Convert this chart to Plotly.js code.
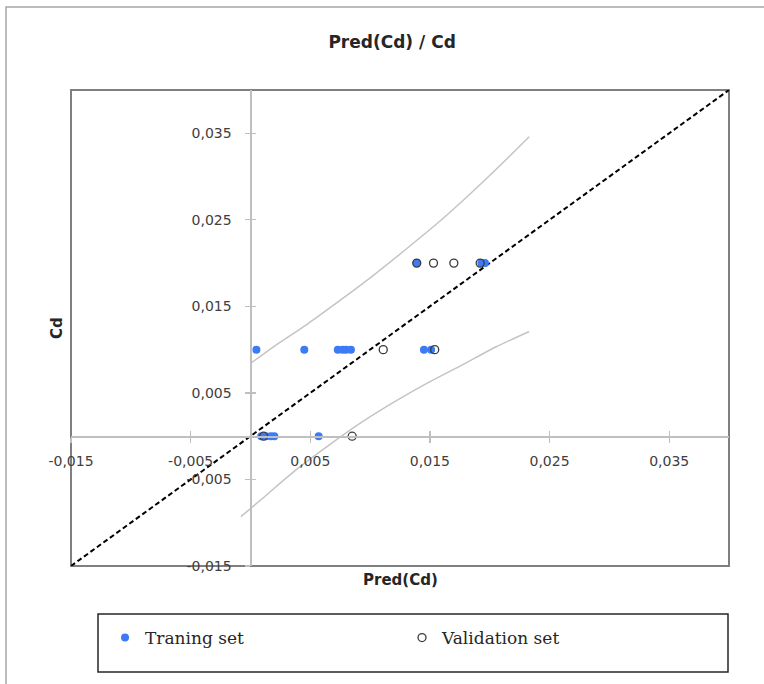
<!DOCTYPE html>
<html>
<head>
<meta charset="utf-8">
<script src="https://cdn.plot.ly/plotly-3.0.1.min.js"></script>
<style>html,body{margin:0;padding:0;background:#fff;}#chart{width:764px;height:684px;}</style>
</head>
<body>
<div id="chart"></div>
<script>
// ---- data ----
const trainX = [0.0009, 0.0013, 0.0017, 0.0020, 0.0057, 0.0005, 0.0045, 0.0073, 0.0077, 0.0080, 0.0084, 0.0145, 0.0151, 0.0139, 0.0193, 0.0196];
const trainY = [0, 0, 0, 0, 0, 0.01, 0.01, 0.01, 0.01, 0.01, 0.01, 0.01, 0.01, 0.02, 0.02, 0.02];
const valX = [0.0011, 0.0085, 0.0111, 0.0154, 0.0139, 0.0153, 0.0170, 0.0192];
const valY = [0, 0, 0.01, 0.01, 0.02, 0.02, 0.02, 0.02];
const upperX = [0.0000, 0.0019, 0.0047, 0.0074, 0.0102, 0.0130, 0.0158, 0.0186, 0.0214, 0.0233];
const upperY = [0.0084, 0.0103, 0.0129, 0.0156, 0.0185, 0.0216, 0.0248, 0.0283, 0.0320, 0.0346];
const lowerX = [-0.0008, 0.0010, 0.0038, 0.0066, 0.0094, 0.0122, 0.0150, 0.0178, 0.0205, 0.0233];
const lowerY = [-0.0093, -0.0072, -0.0039, -0.0010, 0.0017, 0.0041, 0.0063, 0.0083, 0.0103, 0.0121];
const diagX = [-0.015, 0.04];
const diagY = [-0.015, 0.04];
const tickValues = [-0.015, -0.005, 0.005, 0.015, 0.025, 0.035];
const tickLabels = ['-0,015', '-0,005', '0,005', '0,015', '0,025', '0,035'];
const axisRange = [-0.015, 0.04];
const seriesNames = ['Traning set', 'Validation set'];

const zeroPos = (0 - axisRange[0]) / (axisRange[1] - axisRange[0]);
const tickFont = {family: 'DejaVu Sans', size: 14, color: '#404040'};
const axisColor = '#bfbfbf';

const data = [
  {x: upperX, y: upperY, mode: 'lines', line: {color: '#c4c4c4', width: 1.5, shape: 'spline', smoothing: 0.6}, showlegend: false, hoverinfo: 'skip'},
  {x: lowerX, y: lowerY, mode: 'lines', line: {color: '#c4c4c4', width: 1.5, shape: 'spline', smoothing: 0.6}, showlegend: false, hoverinfo: 'skip'},
  {x: diagX, y: diagY, mode: 'lines', line: {color: '#000000', width: 2, dash: '5px,3px'}, showlegend: false},
  {x: trainX, y: trainY, mode: 'markers', name: seriesNames[0],
   marker: {color: '#3c7bf5', size: 8, line: {width: 0}}},
  {x: valX, y: valY, mode: 'markers', name: seriesNames[1],
   marker: {color: 'rgba(255,255,255,0)', size: 8, line: {color: '#3a3a3a', width: 1.3}}},
  {x: [], y: [], xaxis: 'x2', yaxis: 'y2', showlegend: false, hoverinfo: 'skip'}
];

const baseAxis = {
  range: axisRange, anchor: 'free', position: zeroPos,
  showgrid: false, zeroline: false,
  tickmode: 'array', tickvals: tickValues, ticktext: tickLabels,
  ticks: 'outside', ticklen: 5, tickwidth: 1.2, tickcolor: axisColor,
  showline: true, linecolor: axisColor, linewidth: 1.5,
  tickfont: tickFont, fixedrange: true
};

const overAxis = {
  range: axisRange, anchor: 'free', position: zeroPos,
  showgrid: false, zeroline: false, showline: false,
  tickmode: 'array', tickvals: tickValues, showticklabels: false,
  ticks: 'inside', ticklen: 5, tickwidth: 1.2, tickcolor: axisColor, fixedrange: true
};

const layout = {
  width: 764, height: 684,
  margin: {l: 71, r: 35, t: 90, b: 118, pad: 0},
  paper_bgcolor: '#ffffff', plot_bgcolor: 'rgba(0,0,0,0)',
  title: {text: 'Pred(Cd) / Cd', font: {family: 'DejaVu Sans', size: 17, color: '#262626', weight: 'bold'},
          xref: 'paper', x: 0.488, xanchor: 'center', yref: 'container', y: 1 - 42/684, yanchor: 'middle'},
  xaxis: Object.assign({}, baseAxis, {ticklabelstandoff: 7}),
  yaxis: Object.assign({}, baseAxis, {ticklabelstandoff: 11}),
  xaxis2: Object.assign({}, overAxis, {overlaying: 'x'}),
  yaxis2: Object.assign({}, overAxis, {overlaying: 'y'}),
  showlegend: true,
  legend: {orientation: 'h', x: 0.0517, xanchor: 'left', y: -0.1513, yanchor: 'middle',
           font: {family: 'DejaVu Serif', size: 17, color: '#262626'},
           bgcolor: 'rgba(0,0,0,0)', borderwidth: 0, entrywidth: 252, entrywidthmode: 'pixels'},
  annotations: [
    {text: 'Pred(Cd)', xref: 'paper', yref: 'paper', x: 0.5, y: -14/476, xanchor: 'center', yanchor: 'middle',
     showarrow: false, font: {family: 'DejaVu Sans', size: 15, color: '#262626', weight: 'bold'}},
    {text: 'Cd', xref: 'paper', yref: 'paper', x: (57-71)/658, y: 0.5, xanchor: 'center', yanchor: 'middle',
     textangle: -90, showarrow: false, font: {family: 'DejaVu Sans', size: 15, color: '#262626', weight: 'bold'}}
  ],
  shapes: [
    {type: 'rect', xref: 'paper', yref: 'paper', x0: 0, x1: 1, y0: 0, y1: 1, layer: 'below',
     line: {color: '#7f7f7f', width: 2}},
    {type: 'rect', xref: 'paper', yref: 'paper', x0: (6-71)/658, x1: 1.07, y0: -0.3, y1: (566-7)/476, layer: 'below',
     line: {color: '#a6a6a6', width: 1.5}},
    {type: 'rect', xref: 'paper', yref: 'paper', x0: (98-71)/658, x1: (728-71)/658, y0: (566-672)/476, y1: (566-614)/476, layer: 'below',
     line: {color: '#262626', width: 1.5}}
  ]
};

Plotly.newPlot('chart', data, layout, {displayModeBar: false, staticPlot: true});
</script>
</body>
</html>
